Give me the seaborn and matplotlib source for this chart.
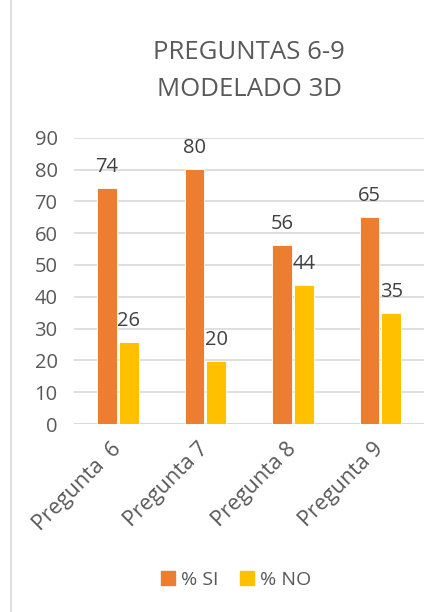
import matplotlib
matplotlib.use("Agg")
import matplotlib.pyplot as plt
import pandas as pd
import seaborn as sns
from matplotlib.lines import Line2D

# data
preguntas = ["Pregunta  6", "Pregunta 7", "Pregunta 8", "Pregunta 9"]
si = [74.3, 80.2, 56.3, 65.1]
no = [25.7, 19.8, 43.7, 34.9]
series = ["% SI", "% NO"]
colors = ["#ED7D31", "#FFC000"]

df = pd.DataFrame({
    "pregunta": preguntas * 2,
    "valor": si + no,
    "serie": [series[0]] * 4 + [series[1]] * 4,
})

sns.set_style("white")
plt.rcParams['font.family'] = ['Open Sans', 'DejaVu Sans']
text_col = "#595959"

fig = plt.figure(figsize=(4.39, 6.12), dpi=100)
ax = fig.add_axes([0.169, 0.307, 0.797, 0.468])

sns.barplot(data=df, x="pregunta", y="valor", hue="serie", palette=colors,
            saturation=1, width=0.5, gap=0.1, edgecolor="white", linewidth=0.6,
            ax=ax, legend=False)

for c in ax.containers:
    ax.bar_label(c, fmt="%.0f", padding=8, fontsize=14.5, color="#404040")

ax.set_ylim(0, 90)
ax.set_xlim(-0.5, 3.5)
ax.set_yticks(range(0, 100, 10))
ax.yaxis.grid(True, color="#D9D9D9", linewidth=1.2)
ax.set_axisbelow(True)
for s in ax.spines.values():
    s.set_visible(False)
ax.axhline(0, color="#D9D9D9", linewidth=1.5, zorder=0)
ax.set_xlabel("")
ax.set_ylabel("")
ax.tick_params(axis="y", length=0, labelsize=14.5, labelcolor=text_col, pad=12)
ax.tick_params(axis="x", length=0, labelsize=15.5, labelcolor=text_col, pad=16)
plt.setp(ax.get_xticklabels(), rotation=45, ha="right", va="center",
         rotation_mode="anchor")

ax.set_title("PREGUNTAS 6-9\nMODELADO 3D", fontsize=18.5, color=text_col,
             linespacing=1.65, pad=30)

handles = [plt.Rectangle((0, 0), 1, 1, color=c) for c in colors]
fig.legend(handles, series, loc="center", bbox_to_anchor=(236 / 439, 1 - 580 / 612),
           ncol=2, frameon=False, fontsize=14, labelcolor=text_col,
           handlelength=0.75, handleheight=0.75, handletextpad=0.3, columnspacing=1.1)

# light frame line on the left like the source
fig.add_artist(Line2D([11 / 439, 11 / 439], [0, 1], transform=fig.transFigure,
                      color="#D9D9D9", linewidth=1.2))

fig.savefig("out.png", dpi=100)
